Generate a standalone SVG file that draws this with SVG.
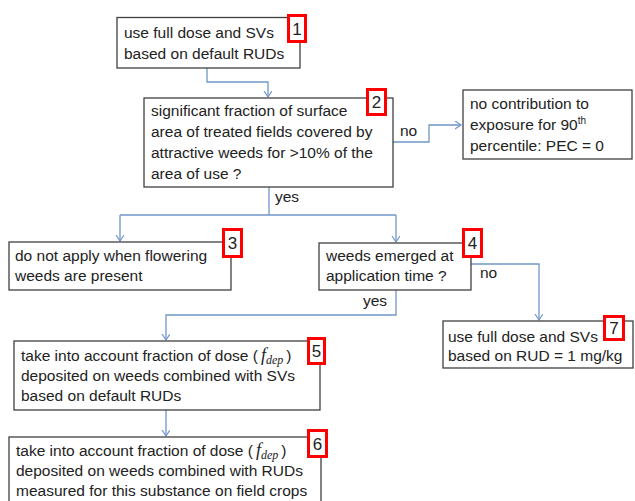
<svg xmlns="http://www.w3.org/2000/svg" width="635" height="501" viewBox="0 0 635 501">
<defs>
<style>
.box{fill:#fff;stroke:#404040;stroke-width:1.3}
.tag{fill:#fff;stroke:#ff0000;stroke-width:3}
.t{font-family:"Liberation Sans",Arial,sans-serif;font-size:15.5px;fill:#222}
.d{font-family:"Liberation Sans",Arial,sans-serif;font-size:17px;fill:#222;text-anchor:middle}
.c{fill:none;stroke:#7096c8;stroke-width:1.3}
.it{font-family:"Liberation Serif","Times New Roman",serif;font-style:italic}
</style>
<marker id="arr" markerWidth="10" markerHeight="10" refX="6" refY="4" orient="auto" markerUnits="userSpaceOnUse">
<path d="M0,0 L6,4 L0,8" fill="none" stroke="#7096c8" stroke-width="1.2"/>
</marker>
</defs>
<g id="connectors">
<path class="c" d="M207,68 V82 H268 V97" marker-end="url(#arr)"/>
<path class="c" d="M393,142 H429 V125 H461" marker-end="url(#arr)"/>
<path class="c" d="M269,187 V215"/>
<path class="c" d="M120,215 H396"/>
<path class="c" d="M120,215 V241" marker-end="url(#arr)"/>
<path class="c" d="M396,215 V242" marker-end="url(#arr)"/>
<path class="c" d="M471,264 H539 V320" marker-end="url(#arr)"/>
<path class="c" d="M396,290 V315 H166 V340" marker-end="url(#arr)"/>
<path class="c" d="M166,410 V436" marker-end="url(#arr)"/>
<text class="t" x="400" y="136">no</text>
<text class="t" x="275" y="202">yes</text>
<text class="t" x="480" y="278">no</text>
<text class="t" x="363" y="306">yes</text>
</g>
<g id="n1">
<rect class="box" x="117" y="17.5" width="183" height="50.5"/>
<text class="t" x="124" y="38">use full dose and SVs</text>
<text class="t" x="124" y="59">based on default RUDs</text>
<rect class="tag" x="288.5" y="15.5" width="17" height="26"/>
<text class="d" x="297" y="35">1</text>
</g>
<g id="n2">
<rect class="box" x="144" y="98" width="249" height="89"/>
<text class="t" x="151" y="116">significant fraction of surface</text>
<text class="t" x="151" y="137">area of treated fields covered by</text>
<text class="t" x="151" y="158">attractive weeds for &gt;10% of the</text>
<text class="t" x="151" y="179">area of use ?</text>
<rect class="tag" x="367.5" y="89.5" width="18" height="25"/>
<text class="d" x="376.5" y="108">2</text>
</g>
<g id="n_no">
<rect class="box" x="463" y="90" width="169" height="69"/>
<text class="t" x="470" y="109">no contribution to</text>
<text class="t" x="470" y="130">exposure for 90<tspan font-size="10" dy="-6">th</tspan></text>
<text class="t" x="470" y="151">percentile: PEC = 0</text>
</g>
<g id="n3">
<rect class="box" x="9" y="242" width="222" height="48"/>
<text class="t" x="15" y="261">do not apply when flowering</text>
<text class="t" x="15" y="281">weeds are present</text>
<rect class="tag" x="223.5" y="229.5" width="18" height="27"/>
<text class="d" x="232.5" y="249">3</text>
</g>
<g id="n4">
<rect class="box" x="319" y="243" width="152" height="47"/>
<text class="t" x="326" y="261">weeds emerged at</text>
<text class="t" x="326" y="281">application time ?</text>
<rect class="tag" x="463.5" y="229.5" width="18" height="27"/>
<text class="d" x="472.5" y="249">4</text>
</g>
<g id="n7">
<rect class="box" x="443" y="321" width="190" height="47"/>
<text class="t" x="448" y="342">use full dose and SVs</text>
<text class="t" x="448" y="361">based on RUD = 1 mg/kg</text>
<rect class="tag" x="604.5" y="316.5" width="19" height="23"/>
<text class="d" x="614" y="334">7</text>
</g>
<g id="n5">
<rect class="box" x="14" y="341" width="306" height="69"/>
<text class="t" x="21" y="361">take into account fraction of dose (<tspan class="it" font-size="18" dx="3">f</tspan><tspan class="it" font-size="12" dy="3">dep</tspan><tspan dy="-3" dx="3">)</tspan></text>
<text class="t" x="21" y="381">deposited on weeds combined with SVs</text>
<text class="t" x="21" y="401">based on default RUDs</text>
<rect class="tag" x="308.5" y="338.5" width="16" height="25"/>
<text class="d" x="316.5" y="357">5</text>
</g>
<g id="n6">
<rect class="box" x="9" y="437" width="312" height="70"/>
<text class="t" x="16" y="456">take into account fraction of dose (<tspan class="it" font-size="18" dx="3">f</tspan><tspan class="it" font-size="12" dy="3">dep</tspan><tspan dy="-3" dx="3">)</tspan></text>
<text class="t" x="16" y="476">deposited on weeds combined with RUDs</text>
<text class="t" x="16" y="496">measured for this substance on field crops</text>
<rect class="tag" x="308.5" y="430.5" width="18" height="26"/>
<text class="d" x="317.5" y="450">6</text>
</g>
</svg>
